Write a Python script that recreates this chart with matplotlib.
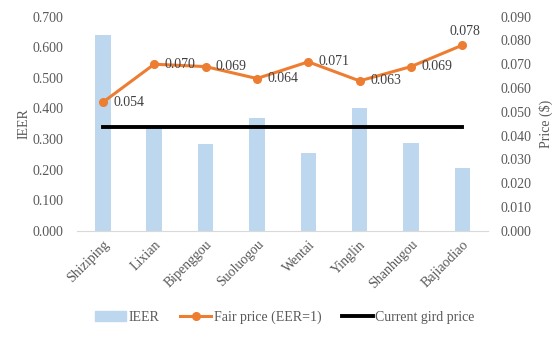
import numpy as np
import matplotlib.pyplot as plt
from matplotlib.lines import Line2D
from matplotlib.patches import Patch

sites = ['Shiziping', 'Lixian', 'Bipenggou', 'Suoluogou', 'Wentai', 'Yinglin', 'Shanhugou', 'Bajiaodiao']
ieer = [0.639, 0.345, 0.283, 0.370, 0.254, 0.402, 0.286, 0.207]
fair_price = [0.054, 0.070, 0.069, 0.064, 0.071, 0.063, 0.069, 0.078]
grid_price = 0.0437

plt.rcParams['font.family'] = ['Liberation Serif', 'DejaVu Serif']
grey = '#595959'
blue = '#BDD7EE'
orange = '#ED7D31'

fig = plt.figure(figsize=(5.59, 3.39), dpi=100)
ax = fig.add_axes([0.138, 0.319, 0.735, 0.632])
x = np.arange(len(sites))

ax.bar(x, ieer, width=0.3, color=blue, zorder=1)
ax.set_xlim(-0.5, len(sites) - 0.5)
ax.set_ylim(0, 0.7)
ax.set_yticks(np.arange(0, 0.71, 0.1))
ax.set_yticklabels(['%.3f' % v for v in np.arange(0, 0.71, 0.1)])
ax.set_ylabel('IEER', color=grey, fontsize=10, labelpad=1)
ax.set_xticks(x)
ax.set_xticklabels(sites, rotation=45, ha='right', rotation_mode='anchor')

ax2 = ax.twinx()
ax2.plot(x, fair_price, color=orange, lw=2.2, marker='o', ms=5.5, zorder=3)
ax2.plot([x[0], x[-1]], [grid_price, grid_price], color='black', lw=2.8, zorder=2)
ax2.set_ylim(0, 0.09)
ax2.set_yticks(np.arange(0, 0.0901, 0.01))
ax2.set_yticklabels(['%.3f' % v for v in np.arange(0, 0.0901, 0.01)])
ax2.set_ylabel('Price ($)', color=grey, fontsize=10, labelpad=5)

for i, v in enumerate(fair_price):
    if i == len(fair_price) - 1:
        ax2.annotate('%.3f' % v, (x[i], v), xytext=(2, 5), textcoords='offset points',
                     ha='center', va='bottom', fontsize=10, color='#404040')
    else:
        ax2.annotate('%.3f' % v, (x[i], v), xytext=(7.5, 0), textcoords='offset points',
                     ha='left', va='center', fontsize=10, color='#404040')

for a in (ax, ax2):
    for s in a.spines.values():
        s.set_visible(False)
    a.tick_params(length=0, labelsize=10, labelcolor=grey)
ax.tick_params(axis='y', pad=10)
ax2.tick_params(axis='y', pad=9)
ax.spines['bottom'].set_visible(True)
ax.spines['bottom'].set_color('#D9D9D9')
ax.tick_params(axis='x', pad=5)
ax.set_zorder(ax2.get_zorder() - 1)
ax2.patch.set_visible(False)

handles = [Patch(color=blue, label='IEER'),
           Line2D([], [], color=orange, lw=2.2, marker='o', ms=5.5, label='Fair price (EER=1)'),
           Line2D([], [], color='black', lw=2.8, label='Current gird price')]
leg = fig.legend(handles=handles, loc='center', bbox_to_anchor=(0.51, 0.065), ncol=3,
                 frameon=False, fontsize=10, handlelength=2.2, handletextpad=0.2, columnspacing=1.5)
for t in leg.get_texts():
    t.set_color(grey)

fig.savefig('out.png', dpi=100)
